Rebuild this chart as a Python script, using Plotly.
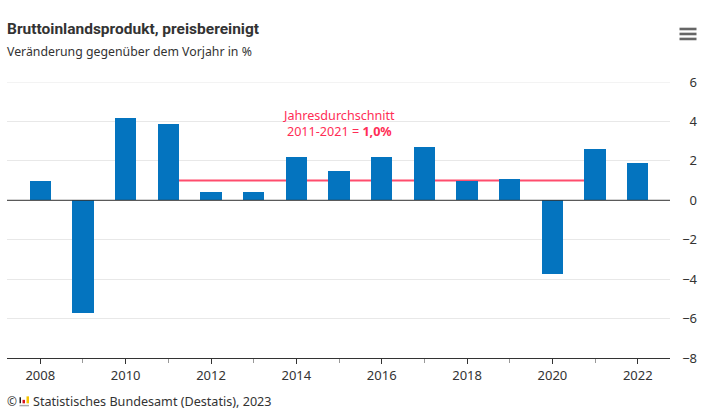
import plotly.graph_objects as go

years = list(range(2008, 2023))
values = [1.0, -5.7, 4.15, 3.85, 0.4, 0.4, 2.2, 1.5, 2.2, 2.7, 1.0, 1.1, -3.75, 2.6, 1.9]
avg_start, avg_end, avg_value = 2011, 2021, 1.0
y_ticks = [6, 4, 2, 0, -2, -4, -6, -8]
x_ticks = list(range(2008, 2023, 2))

FONT = "Noto Sans"
DARK = "#333333"
W, H = 709, 413
L, R, T, B = 7, 700, 81.5, 358.5


def px(x):
    return (x - L) / (R - L)


def py(y):
    return (B - y) / (B - T)


fig = go.Figure(go.Bar(x=years, y=values, width=0.5, marker=dict(color="#0474BF", line_width=0),
                       hoverinfo="x+y"))

shapes = [
    dict(type="line", layer="below", xref="x", yref="y", x0=avg_start, x1=avg_end, y0=avg_value, y1=avg_value,
         line=dict(color="#FF4D6D", width=2)),
    dict(type="line", layer="above", xref="paper", yref="y", x0=0, x1=px(670), y0=0, y1=0,
         line=dict(color="#333333", width=1)),
    dict(type="line", layer="below", xref="paper", yref="y", x0=0, x1=px(670), y0=y_ticks[0], y1=y_ticks[0],
         line=dict(color="#E8E8E8", width=1)),
]
for yy in (28.3, 33.3, 38.3):
    shapes.append(dict(type="line", xref="paper", yref="paper", x0=px(679.5), x1=px(696.5), y0=py(yy), y1=py(yy),
                       line=dict(color="#666666", width=2.6)))
for x0, x1, y0, y1, c in [(19.5, 21, 398, 404, "#222222"), (22.5, 25, 400.5, 404, "#D8141E"),
                          (26.5, 29, 397, 404, "#F5C400"), (19.5, 29, 405.5, 407, "#AAAAAA")]:
    shapes.append(dict(type="rect", xref="paper", yref="paper", x0=px(x0), x1=px(x1), y0=py(y0), y1=py(y1),
                       line_width=0, fillcolor=c))

annotations = [
    dict(text="<b>Bruttoinlandsprodukt, preisbereinigt</b>", x=px(5), y=py(28), xanchor="left", yanchor="middle",
         showarrow=False, font=dict(size=15.5, color=DARK, family="Roboto")),
    dict(text="Veränderung gegenüber dem Vorjahr in %", x=px(5), y=py(50.5), xanchor="left", yanchor="middle",
         showarrow=False, font=dict(size=12.3, color=DARK, family=FONT)),
    dict(text="Jahresdurchschnitt<br>2011-2021 = <b>1,0%</b>", x=px(339), y=py(123), xanchor="center",
         yanchor="middle", align="center", showarrow=False,
         font=dict(size=12.6, color="#FF2D55", family=FONT)),
    dict(text="©", x=px(5), y=py(402), xanchor="left", yanchor="middle", showarrow=False,
         font=dict(size=12, color=DARK, family=FONT)),
    dict(text="Statistisches Bundesamt (Destatis), 2023", x=px(31), y=py(402), xanchor="left", yanchor="middle",
         showarrow=False, font=dict(size=12.6, color=DARK, family=FONT)),
]
for a in annotations:
    a.update(xref="paper", yref="paper")

fig.update_layout(
    width=W, height=H, autosize=False, paper_bgcolor="white", plot_bgcolor="white",
    margin=dict(l=L, r=W - R, t=T, b=H - B, pad=0),
    showlegend=False, font=dict(family=FONT, size=13, color=DARK),
    shapes=shapes, annotations=annotations, bargap=0,
    xaxis=dict(domain=[0, px(670)], range=[2007.22, 2022.755], tickmode="array", tickvals=x_ticks,
               ticks="outside", ticklen=5, tickcolor="#333333", tickwidth=1, showgrid=False, zeroline=False,
               showline=True, linecolor="#333333", linewidth=1,
               minor=dict(ticks="outside", ticklen=4, tickcolor="#999999", dtick=1, tick0=2008, showgrid=False),
               tickfont=dict(size=13, color=DARK, family=FONT)),
    yaxis=dict(range=[-8, 6], tickmode="array", tickvals=y_ticks, side="right", anchor="free", position=1,
               ticklabelposition="inside", ticklabeloverflow="allow", ticks="", showgrid=True,
               gridcolor="#E8E8E8", gridwidth=1,
               zeroline=False, showline=False, tickfont=dict(size=13, color=DARK, family=FONT)),
)

fig.write_html("out.html", config=dict(displayModeBar=False),
               post_script="document.body.style.margin='0';")
